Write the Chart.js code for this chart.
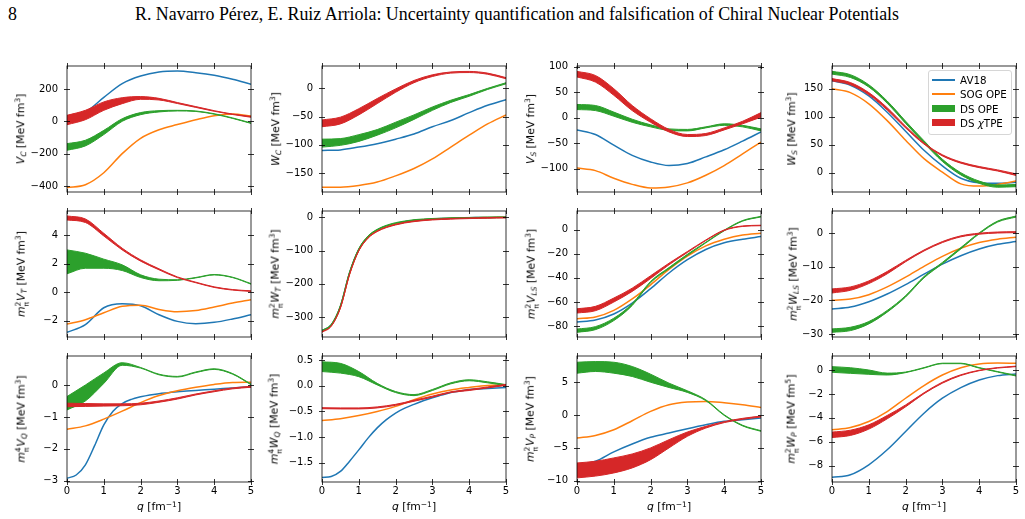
<!DOCTYPE html>
<html>
<head>
<meta charset="utf-8">
<script src="https://cdn.jsdelivr.net/npm/chart.js@4.4.1/dist/chart.umd.min.js"></script>
<style>
  body { margin: 0; background: #fff; width: 1025px; height: 519px; position: relative; overflow: hidden; font-family: "DejaVu Sans", sans-serif; color: #000; }
  canvas { position: absolute; }
  .hdr { position: absolute; font-family: "Liberation Serif", "DejaVu Serif", serif; font-size: 17.9px; white-space: nowrap; line-height: 1; }
  .ylab { position: absolute; font-size: 10.8px; white-space: nowrap; line-height: 1; transform: translate(-50%, -50%) rotate(-90deg); }
  .xlab { position: absolute; font-size: 10.8px; white-space: nowrap; line-height: 1; transform: translate(-50%, -50%); }
  .ylab sub, .xlab sub { font-size: 0.7em; vertical-align: -0.3em; }
  .ylab sup, .xlab sup { font-size: 0.7em; vertical-align: 0.5em; }
  .ss { display: inline-flex; flex-direction: column; font-size: 0.7em; line-height: 0.95; vertical-align: 0.45em; margin-right: 0.1em; }
  .legend { position: absolute; left: 928px; top: 70px; width: 84px; height: 65px; box-sizing: border-box; border: 1px solid #d6d6d6; border-radius: 3px; background: rgba(255,255,255,0.85); font-size: 10.3px; }
  .legend .row { position: absolute; left: 0; height: 10px; width: 84px; }
  .legend .h { position: absolute; left: 3px; width: 23px; }
  .legend .t { position: absolute; left: 31px; top: 0; line-height: 10px; white-space: nowrap; }
</style>
</head>
<body>
<div class="hdr" style="left:8px;top:6px">8</div>
<div class="hdr" style="left:517px;top:6px;transform:translateX(-50%)">R. Navarro Pérez, E. Ruiz Arriola: Uncertainty quantification and falsification of Chiral Nuclear Potentials</div>
<div id="fig"></div>
<script>
// momentum grids (fm^-1)
const qGrid = [0, 0.5, 1, 1.5, 2, 2.5, 3, 3.5, 4, 4.5, 5];
const qFine = [0, 0.25, 0.5, 0.75, 1, 1.25, 1.5, 1.75, 2, 2.25, 2.5, 2.75, 3, 3.25, 3.5, 3.75, 4, 4.25, 4.5, 4.75, 5];
const xTicks = ['0', '1', '2', '3', '4', '5'];

// V_C
const vcAV18 = [33, 58, 148, 233, 280, 305, 311, 301, 285, 260, 229];
const vcSOG = [-410, -392, -318, -200, -105, -52, -20, 10, 35, 45, 33];
const vcOpeHi = [-138, -117, -56, 16, 54, 66, 68, 64, 47, 21, -10];
const vcOpeLo = [-179, -152, -82, 0, 41, 58, 64, 61, 44, 18, -13];
const vcTpeHi = [37, 68, 120, 146, 153, 142, 116, 91, 66, 45, 30];
const vcTpeLo = [-21, 10, 68, 109, 136, 132, 110, 86, 62, 42, 25];
const vcTicks = ['200', '0', '−200', '−400'];

// W_C
const wcAV18 = [-110, -109, -104, -98, -90, -81, -68, -57, -43, -30, -20];
const wcSOG = [-175, -175, -172, -166, -155, -142, -125, -104, -83, -63, -47];
const wcOpeHi = [-90, -89, -82, -73, -60, -47, -33, -21, -11, 0, 10];
const wcOpeLo = [-104, -101, -94, -83, -70, -55, -39, -25, -14, -2, 8];
const wcTpeHi = [-56, -51, -36, -18, -1, 14, 24, 29, 30, 27, 19];
const wcTpeLo = [-68, -63, -47, -27, -7, 10, 21, 27, 28, 25, 17];
const wcTicks = ['0', '−50', '−100', '−150'];

// V_S
const vsAV18 = [-24, -33, -54, -74, -87, -94, -90, -77, -63, -46, -28];
const vsSOG = [-99, -104, -119, -131, -138, -136, -128, -113, -94, -71, -48];
const vsOpeHi = [26, 24, 11, -3, -14, -22, -23, -18, -12, -15, -22];
const vsOpeLo = [16, 14, 3, -9, -18, -25, -26, -20, -15, -18, -26];
const vsTpeHi = [91, 83, 57, 24, -2, -23, -33, -31, -20, -7, 10];
const vsTpeLo = [80, 70, 44, 14, -9, -28, -37, -35, -24, -12, 1];
const vsTicks = ['100', '50', '0', '−50', '−100'];

// W_S
const wsAV18 = [164, 156, 137, 108, 74, 40, 12, -10, -18, -19, -17];
const wsSOG = [150, 143, 123, 93, 58, 25, 1, -20, -24, -21, -15];
const wsOpeHi = [181, 175, 157, 128, 92, 57, 24, 0, -15, -22, -21];
const wsOpeLo = [176, 170, 153, 124, 88, 53, 20, -4, -19, -26, -25];
const wsTpeHi = [168, 161, 143, 116, 83, 53, 32, 19, 11, 5, -2];
const wsTpeLo = [164, 157, 139, 112, 80, 51, 30, 17, 9, 3, -5];
const wsTicks = ['150', '100', '50', '0'];

// m_pi^2 V_T
const vtAV18 = [-2.83, -2.29, -1.1, -0.82, -0.96, -1.59, -2.06, -2.22, -2.13, -1.89, -1.59];
const vtSOG = [-2.25, -1.94, -1.45, -1.0, -0.92, -1.22, -1.38, -1.3, -1.05, -0.77, -0.54];
const vtOpeHi = [2.97, 2.74, 2.32, 1.92, 1.22, 0.91, 0.87, 1.03, 1.24, 1.05, 0.6];
const vtOpeLo = [1.29, 1.68, 1.68, 1.52, 1.03, 0.8, 0.83, 1.0, 1.21, 1.02, 0.56];
const vtTpeHi = [5.36, 5.15, 4.14, 3.09, 2.27, 1.64, 1.07, 0.7, 0.37, 0.18, 0.09];
const vtTpeLo = [5.08, 4.9, 3.95, 2.97, 2.18, 1.57, 1.02, 0.66, 0.33, 0.14, 0.05];
const vtTicks = ['4', '2', '0', '−2'];

// m_pi^2 W_T (fine grid)
const wtAV18 = [-341, -324, -268, -167, -97, -59, -39, -27, -19, -13.5, -9.5, -7, -5, -3.5, -2.5, -1.8, -1.2, -0.8, -0.4, 0, 0.2];
const wtSOG = [-343, -325, -270, -169, -98, -60, -40, -28, -20, -14, -10, -7.5, -5.5, -4, -3, -2, -1.5, -1, -0.5, 0, 0];
const wtOpeHi = [-340, -322, -265, -164, -94, -56, -36, -24, -16, -11, -7, -5, -3.5, -2.5, -1.5, -0.8, -0.3, 0.2, 0.6, 1, 1.3];
const wtOpeLo = [-342, -324, -267, -166, -96, -58, -38, -26, -18, -13, -9, -7, -5.5, -4.5, -3.5, -2.8, -2.3, -1.8, -1.4, -1, -0.7];
const wtTpeHi = [-344, -326, -271, -170, -99, -61, -41, -29, -21, -15, -11, -8, -6, -4.5, -3.5, -2.5, -1.8, -1.2, -0.8, -0.4, 0];
const wtTpeLo = [-346, -328, -273, -172, -101, -63, -43, -31, -23, -17, -13, -10, -8, -6.5, -5.5, -4.5, -3.8, -3.2, -2.8, -2.4, -2];
const wtTicks = ['0', '−100', '−200', '−300'];

// m_pi^2 V_LS
const vlsAV18 = [-76.7, -75, -70, -61, -49, -36, -25, -16.5, -11, -8, -5.8];
const vlsSOG = [-74, -72.5, -67, -57.5, -45.8, -33, -22, -13.5, -8, -4.5, -3];
const vlsOpeHi = [-82.5, -80.5, -73.5, -61.5, -43, -31.5, -20.5, -10.5, -0.5, 7.5, 11];
const vlsOpeLo = [-85.2, -83, -75.5, -63, -44, -32.5, -21.5, -11, -1, 7, 10.5];
const vlsTpeHi = [-65.7, -63.7, -56.8, -48.6, -38.3, -27.9, -18.2, -8.6, -0.3, 3.0, 3.6];
const vlsTpeLo = [-69.2, -67.3, -60.1, -51.3, -40.6, -29.2, -19.0, -9.1, -0.8, 2.6, 3.2];
const vlsTicks = ['0', '−20', '−40', '−60', '−80'];

// m_pi^2 W_LS
const wlsAV18 = [-22.6, -22.0, -20.4, -18.1, -15.3, -12.2, -9.2, -6.7, -4.7, -3.3, -2.5];
const wlsSOG = [-20, -19.6, -18.3, -16, -13.1, -9.9, -6.9, -4.5, -2.8, -1.8, -1.2];
const wlsOpeHi = [-28.5, -28, -26.3, -23, -18.6, -12.9, -8.7, -4.3, 0.1, 3.6, 5.1];
const wlsOpeLo = [-29.5, -29, -27, -23.5, -19, -13.3, -9.1, -4.7, -0.2, 3.3, 4.8];
const wlsTpeHi = [-16.6, -16, -14.2, -11.4, -8.1, -5, -2.5, -0.8, 0, 0.35, 0.45];
const wlsTpeLo = [-17.8, -17, -15, -12.1, -8.5, -5.3, -2.8, -1.1, -0.3, 0.05, 0.15];
const wlsTicks = ['0', '−10', '−20', '−30'];

// m_pi^4 V_Q (AV18 on fine grid)
const vqAV18 = [-2.92, -2.82, -2.5, -1.9, -1.25, -0.82, -0.58, -0.45, -0.37, -0.31, -0.27, -0.24, -0.21, -0.19, -0.17, -0.15, -0.13, -0.11, -0.09, -0.07, -0.06];
const vqSOG = [-1.39, -1.28, -1.07, -0.82, -0.55, -0.33, -0.18, -0.07, 0.02, 0.08, 0.09];
const vqOpeHi = [-0.36, 0.0, 0.38, 0.7, 0.55, 0.34, 0.27, 0.41, 0.51, 0.36, 0.03];
const vqOpeLo = [-0.78, -0.5, 0.05, 0.62, 0.53, 0.32, 0.25, 0.39, 0.49, 0.34, 0.01];
const vqTpeHi = [-0.57, -0.58, -0.59, -0.59, -0.57, -0.5, -0.4, -0.28, -0.18, -0.09, -0.04];
const vqTpeLo = [-0.68, -0.67, -0.66, -0.65, -0.62, -0.54, -0.44, -0.31, -0.21, -0.12, -0.07];
const vqTicks = ['0', '−1', '−2', '−3'];

// m_pi^4 W_Q (AV18 on fine grid)
const wqAV18 = [-1.79, -1.77, -1.67, -1.47, -1.25, -1.02, -0.82, -0.66, -0.53, -0.435, -0.36, -0.29, -0.23, -0.18, -0.13, -0.1, -0.07, -0.06, -0.05, -0.04, -0.03];
const wqSOG = [-0.675, -0.64, -0.58, -0.5, -0.4, -0.27, -0.16, -0.08, -0.03, 0.01, 0.02];
const wqOpeHi = [0.47, 0.44, 0.28, 0.05, -0.11, -0.17, -0.07, 0.06, 0.12, 0.08, 0.025];
const wqOpeLo = [0.28, 0.25, 0.18, 0.02, -0.13, -0.19, -0.09, 0.04, 0.10, 0.06, 0.005];
const wqTpeHi = [-0.425, -0.43, -0.43, -0.41, -0.36, -0.28, -0.2, -0.115, -0.07, -0.02, 0.03];
const wqTpeLo = [-0.445, -0.45, -0.45, -0.43, -0.38, -0.3, -0.22, -0.13, -0.09, -0.04, 0.01];
const wqTicks = ['0.5', '0.0', '−0.5', '−1.0', '−1.5'];

// m_pi^2 V_P
const vpAV18 = [-7.65, -7.04, -5.6, -4.4, -3.39, -2.74, -2.08, -1.47, -0.96, -0.71, -0.46];
const vpSOG = [-3.5, -3.1, -2.23, -0.86, 0.56, 1.57, 1.98, 2.08, 1.87, 1.57, 1.17];
const vpOpeHi = [8.05, 8.15, 8.05, 7.4, 6.23, 4.86, 3.7, 2.33, 0.05, -1.55, -2.38];
const vpOpeLo = [6.38, 6.64, 6.38, 5.88, 5.0, 4.2, 3.45, 2.2, -0.05, -1.65, -2.48];
const vpTpeHi = [-7.3, -7.04, -6.53, -5.93, -5.0, -3.75, -2.58, -1.72, -1.0, -0.5, -0.15];
const vpTpeLo = [-9.57, -9.3, -8.82, -8.05, -6.8, -5.0, -3.24, -1.98, -1.15, -0.65, -0.3];
const vpTicks = ['5', '0', '−5', '−10'];

// m_pi^2 W_P
const wpAV18 = [-8.97, -8.75, -7.92, -6.67, -5.14, -3.61, -2.36, -1.47, -0.83, -0.47, -0.33];
const wpSOG = [-5.0, -4.8, -4.3, -3.47, -2.36, -1.3, -0.42, 0.19, 0.5, 0.58, 0.56];
const wpOpeHi = [0.28, 0.19, 0.0, -0.26, -0.17, 0.2, 0.57, 0.57, 0.2, -0.13, -0.45];
const wpOpeLo = [-0.19, -0.28, -0.36, -0.42, -0.22, 0.16, 0.53, 0.53, 0.16, -0.17, -0.5];
const wpTpeHi = [-5.19, -5.03, -4.58, -3.8, -2.92, -1.9, -1.02, -0.4, -0.02, 0.2, 0.32];
const wpTpeLo = [-5.64, -5.47, -4.94, -4.08, -3.08, -1.98, -1.1, -0.46, -0.06, 0.16, 0.28];
const wpTicks = ['0', '−2', '−4', '−6', '−8'];

const BLUE = '#1f77b4', ORANGE = '#ff7f0e', GREEN = '#2ca02c', RED = '#d62728';
const UNIT3 = ' [MeV fm<sup>3</sup>]';
const mpi = n => '<i>m</i><span class="ss"><span>' + n + '</span><span>π</span></span>';

// layout of the 3x4 grid (plot-area boxes in page pixels)
const colLeft = [67, 322, 577, 832];
const rowTop = [66, 211, 356];
const PW = 184, PH = 126;

const panels = [
  { r: 0, c: 0, ymin: -437, ymax: 342, ticks: vcTicks, lx: 21, label: '<i>V</i><sub><i>C</i></sub>' + UNIT3, q: qGrid, qa: qGrid, av: vcAV18, sog: vcSOG, oh: vcOpeHi, ol: vcOpeLo, th: vcTpeHi, tl: vcTpeLo },
  { r: 0, c: 1, ymin: -183.6, ymax: 39.6, ticks: wcTicks, lx: 276, label: '<i>W</i><sub><i>C</i></sub>' + UNIT3, q: qGrid, qa: qGrid, av: wcAV18, sog: wcSOG, oh: wcOpeHi, ol: wcOpeLo, th: wcTpeHi, tl: wcTpeLo },
  { r: 0, c: 2, ymin: -146, ymax: 101.6, ticks: vsTicks, lx: 531, label: '<i>V</i><sub><i>S</i></sub>' + UNIT3, q: qGrid, qa: qGrid, av: vsAV18, sog: vsSOG, oh: vsOpeHi, ol: vsOpeLo, th: vsTpeHi, tl: vsTpeLo },
  { r: 0, c: 3, ymin: -34.5, ymax: 190.5, ticks: wsTicks, lx: 792, label: '<i>W</i><sub><i>S</i></sub>' + UNIT3, q: qGrid, qa: qGrid, av: wsAV18, sog: wsSOG, oh: wsOpeHi, ol: wsOpeLo, th: wsTpeHi, tl: wsTpeLo },
  { r: 1, c: 0, ymin: -3.16, ymax: 5.71, ticks: vtTicks, lx: 22, label: mpi(2) + '<i>V</i><sub><i>T</i></sub>' + UNIT3, q: qGrid, qa: qGrid, av: vtAV18, sog: vtSOG, oh: vtOpeHi, ol: vtOpeLo, th: vtTpeHi, tl: vtTpeLo },
  { r: 1, c: 1, ymin: -360, ymax: 19, ticks: wtTicks, lx: 276, label: mpi(2) + '<i>W</i><sub><i>T</i></sub>' + UNIT3, q: qFine, qa: qFine, av: wtAV18, sog: wtSOG, oh: wtOpeHi, ol: wtOpeLo, th: wtTpeHi, tl: wtTpeLo },
  { r: 1, c: 2, ymin: -89.1, ymax: 15.4, ticks: vlsTicks, lx: 532, label: mpi(2) + '<i>V</i><sub><i>LS</i></sub>' + UNIT3, q: qGrid, qa: qGrid, av: vlsAV18, sog: vlsSOG, oh: vlsOpeHi, ol: vlsOpeLo, th: vlsTpeHi, tl: vlsTpeLo },
  { r: 1, c: 3, ymin: -30.9, ymax: 6.6, ticks: wlsTicks, lx: 794, label: mpi(2) + '<i>W</i><sub><i>LS</i></sub>' + UNIT3, q: qGrid, qa: qGrid, av: wlsAV18, sog: wlsSOG, oh: wlsOpeHi, ol: wlsOpeLo, th: wlsTpeHi, tl: wlsTpeLo },
  { r: 2, c: 0, ymin: -3.04, ymax: 0.91, ticks: vqTicks, lx: 22, label: mpi(4) + '<i>V</i><sub><i>Q</i></sub>' + UNIT3, q: qGrid, qa: qFine, av: vqAV18, sog: vqSOG, oh: vqOpeHi, ol: vqOpeLo, th: vqTpeHi, tl: vqTpeLo },
  { r: 2, c: 1, ymin: -1.877, ymax: 0.584, ticks: wqTicks, lx: 275, label: mpi(4) + '<i>W</i><sub><i>Q</i></sub>' + UNIT3, q: qGrid, qa: qFine, av: wqAV18, sog: wqSOG, oh: wqOpeHi, ol: wqOpeLo, th: wqTpeHi, tl: wqTpeLo },
  { r: 2, c: 2, ymin: -10.2, ymax: 9.0, ticks: vpTicks, lx: 531, label: mpi(2) + '<i>V</i><sub><i>P</i></sub>' + UNIT3, q: qGrid, qa: qGrid, av: vpAV18, sog: vpSOG, oh: vpOpeHi, ol: vpOpeLo, th: vpTpeHi, tl: vpTpeLo },
  { r: 2, c: 3, ymin: -9.36, ymax: 1.17, ticks: wpTicks, lx: 792, label: mpi(2) + '<i>W</i><sub><i>P</i></sub> [MeV fm<sup>5</sup>]', q: qGrid, qa: qGrid, av: wpAV18, sog: wpSOG, oh: wpOpeHi, ol: wpOpeLo, th: wpTpeHi, tl: wpTpeLo }
];

Chart.defaults.font.family = '"DejaVu Sans", sans-serif';
Chart.defaults.font.size = 10;
Chart.defaults.color = '#000';

const num = s => parseFloat(s.replace('−', '-'));
const pts = (qs, ys) => ys.map((y, i) => ({ x: qs[i], y: y }));

// frame on all four sides, ticks crossing the frame (half in, half out)
const frameTicks = {
  id: 'frameTicks',
  afterDatasetsDraw(chart) {
    const { ctx, chartArea: a, scales: { x, y } } = chart;
    const IN = 3, OUT = 3;
    ctx.save();
    ctx.strokeStyle = '#000';
    ctx.lineWidth = 0.8;
    ctx.beginPath();
    x.ticks.forEach(t => {
      const px = Math.round(x.getPixelForValue(t.value)) + 0.5;
      ctx.moveTo(px, a.bottom + OUT); ctx.lineTo(px, a.bottom - IN);
      ctx.moveTo(px, a.top - OUT); ctx.lineTo(px, a.top + IN);
    });
    y.ticks.forEach(t => {
      const py = Math.round(y.getPixelForValue(t.value)) + 0.5;
      ctx.moveTo(a.left - OUT, py); ctx.lineTo(a.left + IN, py);
      ctx.moveTo(a.right + OUT, py); ctx.lineTo(a.right - IN, py);
    });
    ctx.stroke();
    ctx.strokeRect(a.left, a.top, a.right - a.left, a.bottom - a.top);
    ctx.restore();
  }
};

const fig = document.getElementById('fig');
const AXW = 60, PADT = 8, PADR = 6;

panels.forEach(p => {
  const bottom = p.r === 2;
  const xh = bottom ? 18 : 0;
  const canvas = document.createElement('canvas');
  const w = AXW + PW + PADR;
  const h = PADT + PH + (bottom ? xh : 8);
  canvas.width = w; canvas.height = h;
  canvas.style.width = w + 'px'; canvas.style.height = h + 'px';
  canvas.style.left = (colLeft[p.c] - AXW) + 'px';
  canvas.style.top = (rowTop[p.r] - PADT) + 'px';
  fig.appendChild(canvas);

  const line = (label, data, color, order) => ({
    label, data, borderColor: color, borderWidth: 1.5, pointRadius: 0, fill: false, order,
    cubicInterpolationMode: 'monotone'
  });
  const band = (label, hi, lo, color, order) => [
    { label: label, data: hi, borderColor: color, backgroundColor: color, borderWidth: 1, pointRadius: 0, fill: '+1', order, cubicInterpolationMode: 'monotone' },
    { label: label + ' lo', data: lo, borderColor: color, borderWidth: 1, pointRadius: 0, fill: false, order, cubicInterpolationMode: 'monotone' }
  ];

  const tickVals = p.ticks.map(num);
  new Chart(canvas, {
    type: 'line',
    data: {
      datasets: [
        line('AV18', pts(p.qa, p.av), BLUE, 4),
        line('SOG OPE', pts(p.q, p.sog), ORANGE, 3),
        ...band('DS OPE', pts(p.q, p.oh), pts(p.q, p.ol), GREEN, 2),
        ...band('DS χTPE', pts(p.q, p.th), pts(p.q, p.tl), RED, 1)
      ]
    },
    options: {
      responsive: false,
      maintainAspectRatio: false,
      animation: false,
      events: [],
      layout: { padding: { left: 0, right: PADR, top: PADT, bottom: bottom ? 0 : 8 } },
      plugins: { legend: { display: false }, tooltip: { enabled: false } },
      scales: {
        x: {
          type: 'linear', min: 0, max: 5,
          afterBuildTicks: s => { s.ticks = xTicks.map(v => ({ value: num(v) })); },
          afterFit: s => { s.height = xh; s.paddingLeft = 0; s.paddingRight = 0; },
          grid: { display: false, drawTicks: false }, border: { display: false },
          ticks: { display: bottom, padding: 3, autoSkip: false, maxRotation: 0, callback: (v, i) => xTicks[i] }
        },
        y: {
          type: 'linear', min: p.ymin, max: p.ymax,
          afterBuildTicks: s => { s.ticks = tickVals.map(v => ({ value: v })); },
          afterFit: s => { s.width = AXW; s.paddingTop = 0; s.paddingBottom = 0; },
          grid: { display: false, drawTicks: false }, border: { display: false },
          ticks: { padding: 9, autoSkip: false, callback: (v, i) => p.ticks[i] }
        }
      }
    },
    plugins: [frameTicks]
  });

  const yl = document.createElement('div');
  yl.className = 'ylab';
  yl.innerHTML = p.label;
  yl.style.left = p.lx + 'px';
  yl.style.top = (rowTop[p.r] + PH / 2) + 'px';
  fig.appendChild(yl);

  if (bottom) {
    const xl = document.createElement('div');
    xl.className = 'xlab';
    xl.innerHTML = '<i>q</i> [fm<sup>−1</sup>]';
    xl.style.left = (colLeft[p.c] + PW / 2) + 'px';
    xl.style.top = '507px';
    fig.appendChild(xl);
  }
});

// legend (inside the W_S panel)
const legendItems = [
  { label: 'AV18', color: BLUE, patch: false },
  { label: 'SOG OPE', color: ORANGE, patch: false },
  { label: 'DS OPE', color: GREEN, patch: true },
  { label: 'DS χTPE', color: RED, patch: true }
];
const lg = document.createElement('div');
lg.className = 'legend';
legendItems.forEach((it, i) => {
  const row = document.createElement('div');
  row.className = 'row';
  row.style.top = (4 + i * 14.3) + 'px';
  const hnd = document.createElement('div');
  hnd.className = 'h';
  hnd.style.background = it.color;
  hnd.style.height = it.patch ? '7px' : '1.7px';
  hnd.style.top = it.patch ? '1.5px' : '4.2px';
  const t = document.createElement('div');
  t.className = 't';
  t.innerHTML = it.label === 'DS χTPE' ? 'DS <i>χ</i>TPE' : it.label;
  row.appendChild(hnd); row.appendChild(t);
  lg.appendChild(row);
});
fig.appendChild(lg);
</script>
</body>
</html>
